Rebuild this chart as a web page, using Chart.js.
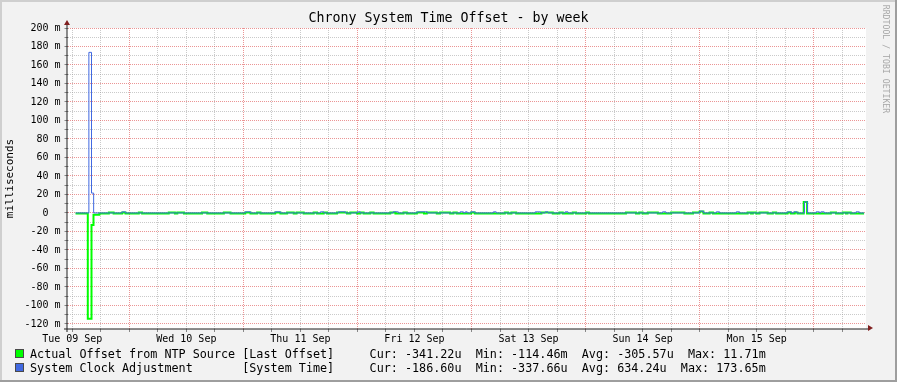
<!DOCTYPE html>
<html>
<head>
<meta charset="utf-8">
<script src="https://cdn.jsdelivr.net/npm/chart.js@4.4.1/dist/chart.umd.min.js"></script>
<style>
  html, body { margin: 0; padding: 0; background: #f2f2f2; }
  #wrap { position: relative; width: 897px; height: 382px; overflow: hidden; }
  canvas { display: block; }
  .leg { position: absolute; left: 30px; font-family: "DejaVu Sans Mono", monospace; font-size: 11.75px; line-height: 14px; color: #000; white-space: pre; }
  .box { position: absolute; left: 15px; width: 7px; height: 7px; border: 1px solid #4a4a4a; }
  #wm { position: absolute; left: 831px; top: 54px; width: 110px; height: 10px; line-height: 10px; text-align: center;
        font-family: "DejaVu Sans Mono", monospace; font-size: 8.2px; color: #a8a8a8; transform: rotate(90deg); white-space: pre; }
</style>
</head>
<body>
<div id="wrap">
  <canvas id="c" width="897" height="382"></canvas>
  <div class="box" id="box0" style="top:349px;background:#00ff00"></div>
  <div class="box" id="box1" style="top:363px;background:#4169e1"></div>
  <div class="leg" id="leg0" style="top:347px"></div>
  <div class="leg" id="leg1" style="top:361px"></div>
  <div id="wm">RRDTOOL / TOBI OETIKER</div>
</div>
<script>
// ---------- data (hours since Tue 09 Sep 00:00, stepped values in milliseconds) ----------
const chartTitle = 'Chrony System Time Offset - by week';
const yAxisTitle = 'milliseconds';
const dayLabels = ['Tue 09 Sep', 'Wed 10 Sep', 'Thu 11 Sep', 'Fri 12 Sep', 'Sat 13 Sep', 'Sun 14 Sep', 'Mon 15 Sep'];
const yLabelValues = [200, 180, 160, 140, 120, 100, 80, 60, 40, 20, 0, -20, -40, -60, -80, -100, -120];
const yLabelTexts = ['200 m', '180 m', '160 m', '140 m', '120 m', '100 m', '80 m', '60 m', '40 m', '20 m', '0  ',
                     '-20 m', '-40 m', '-60 m', '-80 m', '-100 m', '-120 m'];

const offsetHours = [12.7, 15.27, 16.05, 16.47, 17.7, 19.7, 20.7, 22.5, 23.2, 26.0, 26.7, 32.3, 33.6, 34.1, 35.5,
  39.3, 40.4, 43.9, 45.3, 48.4, 49.5, 50.9, 51.6, 54.7, 55.8, 57.2, 58.6, 59.2, 60.7, 62.8, 63.5, 64.9, 65.6,
  67.7, 69.8, 70.5, 71.9, 72.6, 73.3, 74.7, 75.4, 78.9, 80.0, 81.7, 82.4, 84.5, 86.0, 86.6, 88.7, 89.4, 91.5,
  92.2, 92.9, 95.9, 96.7, 103.0, 103.7, 104.4, 105.4, 110.7, 113.1, 114.5, 115.2, 117.3, 118.0, 120.1, 120.7,
  128.5, 130.6, 131.3, 132.0, 133.1, 135.2, 138.0, 140.8, 142.6, 144.0, 144.8, 146.1, 146.8, 154.1, 154.8,
  155.2, 155.9, 156.6, 158.3, 159.4, 160.1, 162.5, 163.2, 164.0, 164.6, 165.9, 166.6, 171.6, 172.7, 174.1,
  174.8, 175.1, 175.8, 178.6];
const offsetValues = [-0.5, -114.46, -13, -2, -0.5, 0.6, -0.5, 0.6, -0.5, 0.6, -0.5, 0.6, -0.5, 0.6, -0.5,
  0.6, -0.5, 0.6, -0.5, 0.6, -0.5, 0.6, -0.5, 0.6, -0.5, 0.6, -0.5, 0.6, -0.5, 0.6, -0.5, 0.6, -0.5,
  0.6, -0.5, 0.6, -0.5, 0.6, -0.5, 0.6, -0.5, 0.6, -0.5, 0.6, -0.5, 0.6, -0.5, 0.6, -0.5, 0.6, -0.5,
  0.6, -0.5, 0.6, -0.5, 0.6, -0.5, 0.6, -0.5, 0.6, -0.5, 0.6, -0.5, 0.6, -0.5, 0.6, -0.5,
  0.6, -0.5, 0.6, -0.5, 0.6, -0.5, 0.6, -0.5, 0.6, 1.5, -0.5, 0.6, -0.5, 0.6, -0.5,
  0.6, -0.5, 0.6, -0.5, 0.6, -0.5, 0.6, -0.5, 0.6, -0.5, 11.71, -0.5, 0.6, -0.5, 0.6,
  -0.5, 0.6, -0.5, -0.5];

const adjustHours = [12.7, 15.5, 16.05, 16.5, 22.5, 23.2, 48.4, 49.5, 54.7, 55.8, 64.2, 64.9, 68.0, 69.5, 72.0,
  72.6, 79.5, 80.6, 84.6, 86.7, 93.6, 94.3, 94.7, 95.1, 95.9, 96.7, 100.6, 101.2, 109.4, 110.5, 111.5, 112.1,
  115.7, 116.3, 136.2, 136.9, 144.0, 144.8, 147.5, 148.2, 151.7, 152.4, 162.5, 163.3, 163.8, 164.5, 166.05,
  166.7, 168.5, 169.2, 169.5, 170.2, 176.9, 177.6, 178.6];
const adjustValues = [0, 173.65, 21.5, 0, 1.2, 0, 1.2, 0, 1.2, 0, 1.2, 0, 1.2, 0, 1.2,
  0, 1.2, 0, 1.2, 0, 1.2, 0, 1.2, 0, 1.2, 0, 1.2, 0, 1.2, 0, 1.2, 0,
  1.2, 0, 1.2, 0, 2.0, 0, 1.2, 0, 1.2, 0, 1.2, 0, 1.2, 0, 12.0,
  0, 1.2, 0, 1.2, 0, 1.2, 0, 0];

// legend texts
const seriesNames = ['Actual Offset from NTP Source', 'System Clock Adjustment'];
const seriesTags = ['[Last Offset]', '[System Time]'];
const curValues = ['-341.22u', '-186.60u'];
const minValues = ['-114.46m', '-337.66u'];
const avgValues = ['-305.57u', '634.24u'];
const maxValues = ['11.71m', '173.65m'];
const seriesColors = ['#00ff00', '#4169e1'];

// ---------- legend ----------
for (let i = 0; i < 2; i++) {
  const stats = ['Cur: ' + curValues[i], 'Min: ' + minValues[i], 'Avg: ' + avgValues[i], 'Max: ' + maxValues[i]].join('  ');
  document.getElementById('leg' + i).textContent = seriesNames[i].padEnd(30) + seriesTags[i] + '     ' + stats;
}

// ---------- scales helpers ----------
const X_MIN = 11, X_MAX = 179;
const xGridHours = [];
for (let h = 12; h < X_MAX; h += 6) xGridHours.push(h);
const yGridValues = [];
for (let v = -120; v <= 200; v += 10) yGridValues.push(v);

const MAJOR = 'rgba(222,79,79,0.6)';
const MINOR = 'rgba(150,150,150,0.5)';
const isMajorX = v => Math.round(v) % 24 === 0;
const isMajorY = v => Math.round(v) % 20 === 0;

const bgPlugin = {
  id: 'rrdbg',
  beforeDraw(chart) {
    const { ctx, width, height, chartArea: a } = chart;
    ctx.save();
    ctx.fillStyle = '#f2f2f2';
    ctx.fillRect(0, 0, width, height);
    ctx.fillStyle = '#cfcfcf';
    ctx.fillRect(0, 0, width, 2);
    ctx.fillRect(0, 0, 2, height);
    ctx.fillStyle = '#9e9e9e';
    ctx.fillRect(0, height - 2, width, 2);
    ctx.fillRect(width - 2, 0, 2, height);
    ctx.fillStyle = '#ffffff';
    ctx.fillRect(Math.round(a.left - 0.5), a.top, a.right - Math.round(a.left - 0.5), a.bottom - a.top);
    ctx.restore();
  },
  afterDraw(chart) {
    const { ctx, chartArea: a } = chart;
    const ax = Math.round(a.left - 0.5);
    const ay = Math.round(a.bottom);
    ctx.save();
    ctx.strokeStyle = 'rgb(31,31,31)';
    ctx.lineWidth = 1;
    ctx.beginPath();
    ctx.moveTo(ax, a.top - 5);
    ctx.lineTo(ax, ay + 3);
    ctx.moveTo(ax - 3, ay);
    ctx.lineTo(a.right + 3, ay);
    ctx.stroke();
    ctx.fillStyle = '#801f1f';
    ctx.beginPath();
    ctx.moveTo(ax - 3, a.top - 3);
    ctx.lineTo(ax + 3, a.top - 3);
    ctx.lineTo(ax, a.top - 8);
    ctx.closePath();
    ctx.fill();
    ctx.beginPath();
    ctx.moveTo(a.right + 2, ay - 4);
    ctx.lineTo(a.right + 2, ay + 2);
    ctx.lineTo(a.right + 7, ay - 1);
    ctx.closePath();
    ctx.fill();
    ctx.restore();
  }
};

Chart.defaults.font.family = '"DejaVu Sans Mono", monospace';
Chart.defaults.color = '#000';

new Chart(document.getElementById('c'), {
  type: 'line',
  data: {
    datasets: [
      {
        label: seriesNames[1],
        data: adjustHours.map((h, i) => ({ x: h, y: adjustValues[i] })),
        borderColor: seriesColors[1],
        borderWidth: 1,
        stepped: true,
        pointRadius: 0,
        fill: false,
        borderJoinStyle: 'miter',
        borderCapStyle: 'butt'
      },
      {
        label: seriesNames[0],
        data: offsetHours.map((h, i) => ({ x: h, y: offsetValues[i] })),
        borderColor: seriesColors[0],
        borderWidth: 2,
        stepped: true,
        pointRadius: 0,
        fill: false,
        borderJoinStyle: 'miter',
        borderCapStyle: 'butt'
      }
    ]
  },
  options: {
    responsive: false,
    devicePixelRatio: 1,
    animation: false,
    events: [],
    layout: { padding: { left: 0, right: 0, top: 0, bottom: 0 } },
    plugins: {
      legend: { display: false },
      tooltip: { enabled: false },
      title: {
        display: true,
        text: chartTitle,
        color: '#000',
        font: { size: 13.3, weight: 'normal', lineHeight: '16px' },
        padding: { top: 11, bottom: 1 }
      }
    },
    scales: {
      x: {
        type: 'linear',
        min: X_MIN,
        max: X_MAX,
        afterBuildTicks: s => { s.ticks = xGridHours.map(v => ({ value: v })); },
        afterFit: s => { s.height = 53; s.paddingRight = 31; },
        ticks: {
          autoSkip: false, maxRotation: 0, minRotation: 0, padding: 1,
          font: { size: 10 }, color: '#000',
          callback: v => (Math.round(v) % 24 === 12 ? dayLabels[(Math.round(v) - 12) / 24] : '')
        },
        grid: {
          color: c => (c.tick && isMajorX(c.tick.value) ? MAJOR : MINOR),
          tickLength: 3, tickColor: '#888'
        },
        border: { display: false, dash: [1, 1] }
      },
      y: {
        type: 'linear',
        min: -125.5,
        max: 200,
        afterBuildTicks: s => { s.ticks = yGridValues.map(v => ({ value: v })); },
        afterFit: s => { s.width = 67.5; },
        ticks: {
          autoSkip: false, padding: 4,
          font: { size: 10 }, color: '#000',
          callback: v => { const k = yLabelValues.indexOf(Math.round(v)); return k >= 0 ? yLabelTexts[k] : ''; }
        },
        grid: {
          color: c => (c.tick && isMajorY(c.tick.value) ? MAJOR : MINOR),
          tickLength: 3, tickColor: '#888'
        },
        border: { display: false, dash: [1, 1] },
        title: { display: true, text: yAxisTitle, color: '#000', font: { size: 11 }, padding: { top: 4, bottom: 0 } }
      }
    }
  },
  plugins: [bgPlugin]
});
</script>
</body>
</html>
